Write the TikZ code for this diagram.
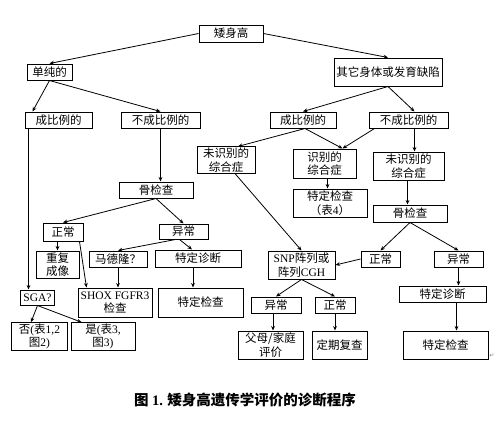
\documentclass[tikz,border=0pt]{standalone}
\usepackage{fontspec}
\setmainfont{Noto Sans CJK SC}
\newfontfamily\latf{Liberation Serif}
\newfontfamily\dejavu{DejaVu Sans}
\newcommand\rmlat[1]{{\latf #1}}
\usetikzlibrary{arrows.meta}
\begin{document}
\begin{tikzpicture}[x=1pt,y=-1pt,
  box/.style={draw,line width=1pt,inner sep=1pt,align=center,font=\fontsize{11.5}{13.5}\selectfont},
  arr/.style={line width=0.8pt,-{Stealth[length=4.5pt,width=3.8pt]}}]
\useasboundingbox (0,0) rectangle (503,429);
\node[box,minimum width=64pt,minimum height=17pt] (ash) at (231,33.5) {矮身高};
\node[box,minimum width=45pt,minimum height=16pt] (dan) at (49.5,72) {单纯的};
\node[box,minimum width=108pt,minimum height=28pt] (qt) at (388,72) {其它身体或发育缺陷};
\node[box,minimum width=67pt,minimum height=16pt] (cb1) at (58.5,120) {成比例的};
\node[box,minimum width=79pt,minimum height=16pt] (bc1) at (160.5,120) {不成比例的};
\node[box,minimum width=66pt,minimum height=16pt] (cb2) at (303,120) {成比例的};
\node[box,minimum width=79pt,minimum height=16pt] (bc2) at (408.5,120) {不成比例的};
\node[box,minimum width=58pt,minimum height=26pt] (wsb1) at (226,160) {未识别的\\综合症};
\node[box,minimum width=63pt,minimum height=29pt] (sb) at (324.5,163.5) {识别的\\综合症};
\node[box,minimum width=71pt,minimum height=28pt] (wsb2) at (408.5,166) {未识别的\\综合症};
\node[box,minimum width=74pt,minimum height=16pt] (gu1) at (156,190) {骨检查};
\node[box,minimum width=74pt,minimum height=28pt] (tj4) at (330,203) {特定检查\\（表\rmlat{4}）};
\node[box,minimum width=74pt,minimum height=17pt] (gu2) at (410,213.5) {骨检查};
\node[box,minimum width=40pt,minimum height=18pt] (zc1) at (63,232) {正常};
\node[box,minimum width=49pt,minimum height=15pt] (yc1) at (183.5,231.5) {异常};
\node[box,minimum width=43pt,minimum height=27pt] (cf) at (57.5,264.5) {重复\\成像};
\node[box,minimum width=58pt,minimum height=16pt] (md) at (118,259) {马德隆？};
\node[box,minimum width=86pt,minimum height=17pt] (td1) at (198,258.5) {特定诊断};
\node[box,minimum width=39pt,minimum height=16pt] (zc2) at (380.5,259) {正常};
\node[box,minimum width=49pt,minimum height=16pt] (yc2) at (458.5,259) {异常};
\node[box,minimum width=67pt,minimum height=28pt] (snp) at (301.5,265) {\rmlat{SNP}阵列或\\阵列\rmlat{CGH}};
\node[box,minimum width=87pt,minimum height=16pt] (td2) at (442.5,294) {特定诊断};
\node[box,minimum width=34pt,minimum height=15pt] (sga) at (37.5,297.5) {\rmlat{SGA?}};
\node[box,minimum width=74pt,minimum height=29pt] (shox) at (115,302.5) {\rmlat{SHOX FGFR3}\\检查};
\node[box,minimum width=85pt,minimum height=29pt] (tj1) at (200.5,302.5) {特定检查};
\node[box,minimum width=50pt,minimum height=16pt] (yc3) at (276,305) {异常};
\node[box,minimum width=40pt,minimum height=16pt] (zc3) at (335,305) {正常};
\node[box,minimum width=56pt,minimum height=27pt] (fou) at (39.5,336.5) {否\rmlat{(}表\rmlat{1,2}\\图\rmlat{2)}};
\node[box,minimum width=64pt,minimum height=27pt] (shi) at (103,336.5) {是\rmlat{(}表\rmlat{3,}\\图\rmlat{3)}};
\node[box,minimum width=65pt,minimum height=28pt] (fm) at (270.5,345) {父母/家庭\\评价};
\node[box,minimum width=55pt,minimum height=28pt] (dq) at (339.5,345) {定期复查};
\node[box,minimum width=85pt,minimum height=28pt] (tj2) at (445.5,345) {特定检查};
\node[font=\fontsize{6}{6}\selectfont\dejavu,text=gray] (ret) at (492,356) {↵};
\node[font=\bfseries\fontsize{14.5}{16}\selectfont] (cap) at (245,400) {图 \rmlat{1.} 矮身高遗传学评价的诊断程序};
\draw[arr] (ash.west) -- (dan.north);
\draw[arr] (ash.east) -- (qt.north);
\draw[arr] (dan.south) -- ([xshift=8pt]cb1.north west);
\draw[arr] (dan.south) -- (bc1.north);
\draw[arr] ([xshift=4pt]cb1.south west) -- ([xshift=4pt]cb1.south west |- sga.north);
\draw[arr] (bc1.south) -- (bc1.south |- gu1.north);
\draw[arr] (gu1.south) -- (zc1.north);
\draw[arr] (gu1.south) -- (yc1.north);
\draw[arr] (cf.north |- zc1.south) -- (cf.north);
\draw[arr] ([xshift=-4pt]zc1.south east) -- ([xshift=9pt]shox.north west);
\draw[arr] ([xshift=-8pt]yc1.south) -- (md.north);
\draw[arr] ([xshift=-4pt]yc1.south) -- ([xshift=-6pt]td1.north);
\draw[arr] (md.south) -- (md.south |- shox.north);
\draw[arr] ([xshift=-5pt]td1.south) -- ([xshift=-5pt]td1.south |- tj1.north);
\draw[arr] (sga.south) -- ([xshift=20pt]fou.north west);
\draw[arr] (sga.south) -- ([xshift=11pt]shi.north west);
\draw[arr] (qt.south) -- (cb2.north);
\draw[arr] (qt.south) -- ([xshift=6pt]bc2.north);
\draw[arr] ([xshift=2pt]cb2.south) -- ([xshift=12pt]wsb1.north);
\draw[arr] ([xshift=2pt]cb2.south) -- ([xshift=18pt]sb.north);
\draw[arr] ([xshift=6pt]bc2.south west) -- ([xshift=18pt]sb.north);
\draw[arr] ([xshift=6pt]bc2.south) -- ([xshift=6pt]bc2.south |- wsb2.north);
\draw[arr] ([xshift=3pt]sb.south) -- ([xshift=3pt]sb.south |- tj4.north);
\draw[arr] ([xshift=-1pt]wsb2.south) -- ([xshift=-1pt]wsb2.south |- gu2.north);
\draw[arr] (gu2.south) -- (zc2.north);
\draw[arr] (gu2.south) -- (yc2.north);
\draw[arr] (zc2.west) -- (snp.east);
\draw[arr] ([xshift=9pt]wsb1.south) -- (snp.north);
\draw[arr] (snp.south) -- (yc3.north);
\draw[arr] (snp.south) -- (zc3.north);
\draw[arr] ([xshift=-3pt]yc3.south) -- ([xshift=-3pt]yc3.south |- fm.north);
\draw[arr] (zc3.south) -- (zc3.south |- dq.north);
\draw[arr] (yc2.south) -- (yc2.south |- td2.north);
\draw[arr] ([xshift=14pt]td2.south) -- ([xshift=14pt]td2.south |- tj2.north);
\end{tikzpicture}
\end{document}
